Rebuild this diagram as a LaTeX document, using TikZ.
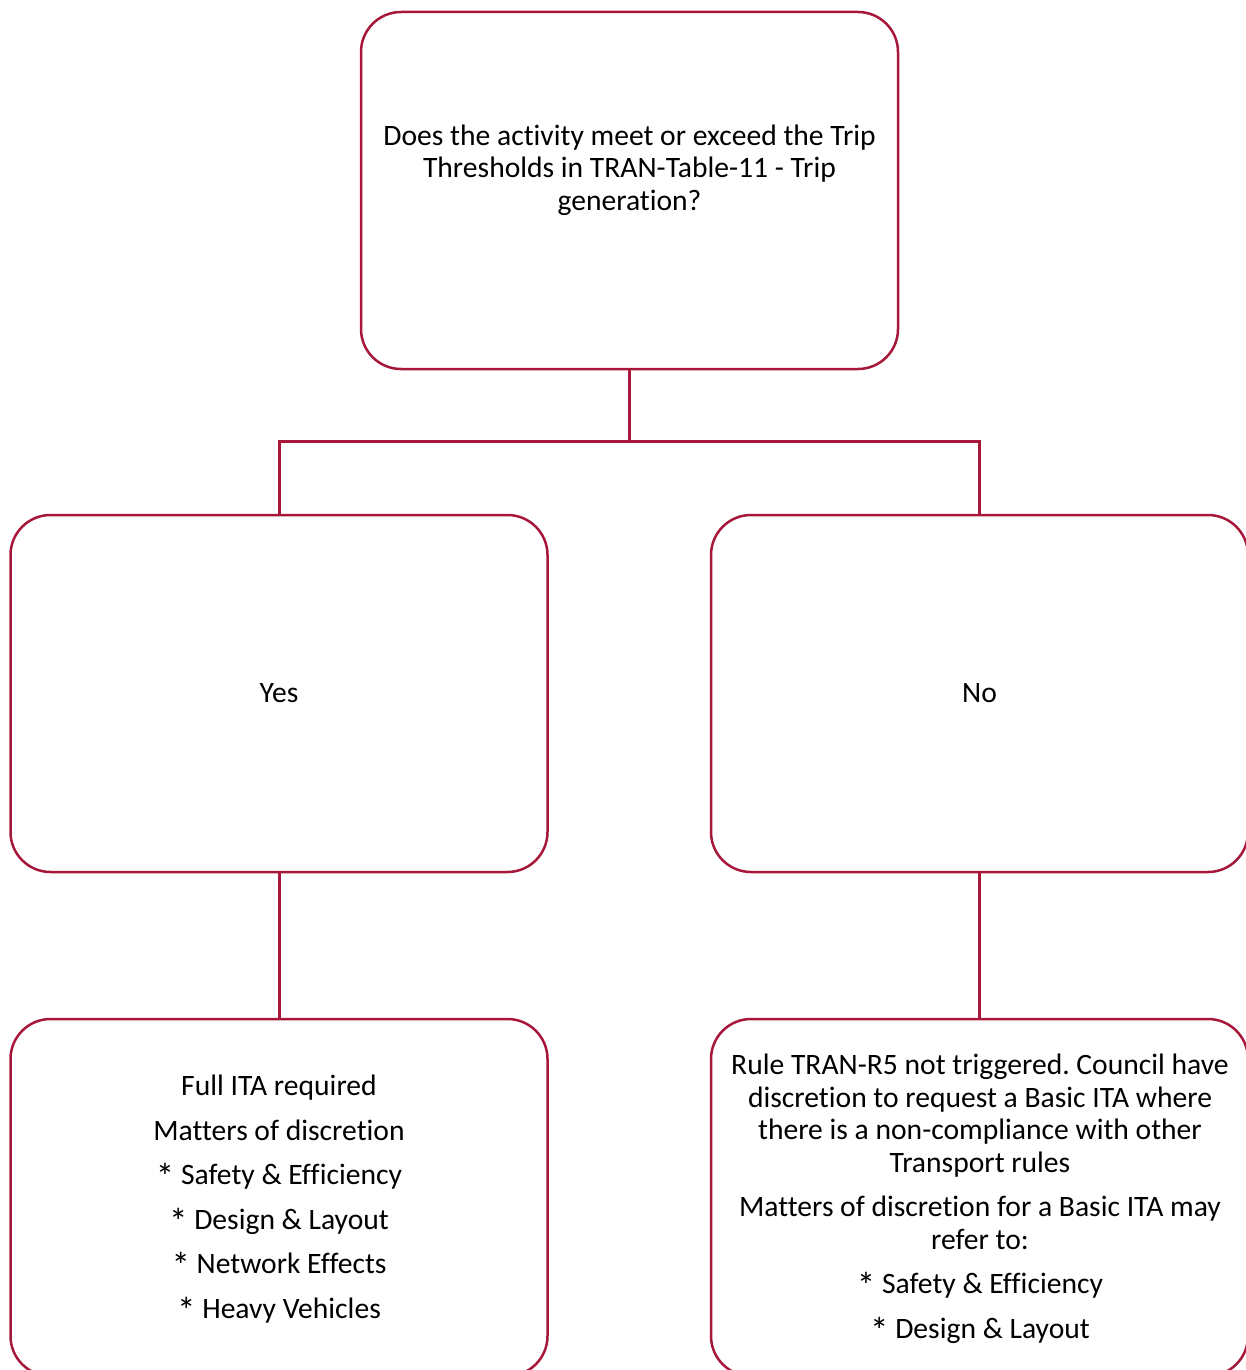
\documentclass[tikz,border=0pt]{standalone}
\usepackage{fontspec}
\setmainfont{Carlito}[Ligatures=NoCommon]
\definecolor{crim}{HTML}{A6173A}
\newcommand{\myast}{\raisebox{-5pt}{\scalebox{1.25}{*}}}
\begin{document}
\frenchspacing
\begin{tikzpicture}[x=1pt,y=-1pt,
  box/.style={draw=crim,line width=2.5pt,rounded corners=40pt,minimum width=537pt,minimum height=357pt,inner sep=0pt},
  txt/.style={align=center,inner sep=0pt,font=\fontsize{29.6}{32.5}\selectfont\frenchspacing},
  conn/.style={draw=crim,line width=3pt}]
\useasboundingbox (0,0) rectangle (1246,1370);
\clip (0,0) rectangle (1246,1370);
\node[box] (top) at (629.5,190.5) {};
\node[box] (yes) at (279,693.5) {};
\node[box] (no) at (979.5,693.5) {};
\node[box] (bl) at (279,1197.5) {};
\node[box] (br) at (979.5,1197.5) {};
\node[txt] (toptxt) at (629.5,170) {Does the activity meet or exceed the Trip\\Thresholds in TRAN-Table-11 - Trip\\generation?};
\node[txt] (yestxt) at (yes.center) {Yes};
\node[txt] (notxt) at (no.center) {No};
\node[txt] (bltxt) at (279,1199) {Full ITA required\\[12pt]Matters of discretion\\[12pt]\myast{} Safety \& Efficiency\\[12pt]\myast{} Design \& Layout\\[12pt]\myast{} Network Effects\\[12pt]\myast{} Heavy Vehicles};
\node[txt] (brtxt) at (980,1199) {Rule TRAN-R5 not triggered. Council have\\discretion to request a Basic ITA where\\there is a non-compliance with other\\Transport rules\\[12pt]Matters of discretion for a Basic ITA may\\refer to:\\[12pt]\myast{} Safety \& Efficiency\\[12pt]\myast{} Design \& Layout};
\coordinate (split) at (629.5,441);
\draw[conn] (top.south) -- (split) -| (yes.north);
\draw[conn] (split) -| (no.north);
\draw[conn] (yes.south) -- (bl.north);
\draw[conn] (no.south) -- (br.north);
\end{tikzpicture}
\end{document}
